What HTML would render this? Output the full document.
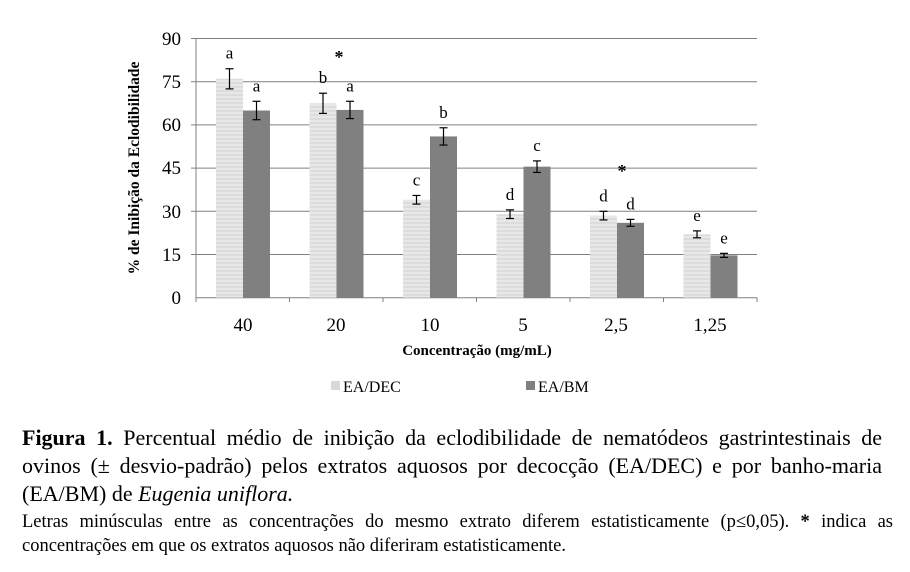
<!DOCTYPE html>
<html><head><style>
body{margin:0;background:#fff;width:910px;height:572px;overflow:hidden;position:relative;font-family:"Liberation Serif",serif;}
.cap{position:absolute;left:22px;top:424px;width:860px;font-size:22px;line-height:28px;color:#000;}
.note{position:absolute;left:22px;top:510px;width:871px;font-size:18.5px;line-height:24px;color:#000;}
.j{text-align:justify;text-align-last:justify;white-space:nowrap;}
</style></head><body>
<svg width="910" height="420" style="position:absolute;left:0;top:0" font-family="Liberation Serif, serif">
<defs>
<pattern id="lp" width="4" height="4" patternUnits="userSpaceOnUse"><rect width="4" height="4" fill="#dcdcdc"/><rect width="4" height="2" fill="#e8e8e8"/></pattern>
</defs>
<g stroke="#808080" stroke-width="1">
<line x1="196" y1="38.5" x2="757" y2="38.5"/>
<line x1="196" y1="81.7" x2="757" y2="81.7"/>
<line x1="196" y1="124.9" x2="757" y2="124.9"/>
<line x1="196" y1="168.1" x2="757" y2="168.1"/>
<line x1="196" y1="211.3" x2="757" y2="211.3"/>
<line x1="196" y1="254.5" x2="757" y2="254.5"/>
<line x1="196" y1="297.7" x2="757" y2="297.7"/>
<line x1="196" y1="38.5" x2="196" y2="302"/>
<line x1="191" y1="38.5" x2="196" y2="38.5"/><line x1="191" y1="81.7" x2="196" y2="81.7"/><line x1="191" y1="124.9" x2="196" y2="124.9"/><line x1="191" y1="168.1" x2="196" y2="168.1"/><line x1="191" y1="211.3" x2="196" y2="211.3"/><line x1="191" y1="254.5" x2="196" y2="254.5"/>
<line x1="289.5" y1="297.7" x2="289.5" y2="302"/><line x1="383" y1="297.7" x2="383" y2="302"/><line x1="476.5" y1="297.7" x2="476.5" y2="302"/><line x1="570" y1="297.7" x2="570" y2="302"/><line x1="663.5" y1="297.7" x2="663.5" y2="302"/><line x1="757" y1="297.7" x2="757" y2="302"/>
</g>
<g font-size="19" text-anchor="end" fill="#000">
<text x="181" y="45">90</text><text x="181" y="88">75</text><text x="181" y="131">60</text><text x="181" y="174">45</text><text x="181" y="218">30</text><text x="181" y="261">15</text><text x="181" y="304">0</text>
</g>
<g font-size="19" text-anchor="middle">
<text x="243" y="331">40</text><text x="336" y="331">20</text><text x="430" y="331">10</text><text x="523" y="331">5</text><text x="616" y="331">2,5</text><text x="710" y="331">1,25</text>
</g>
<text x="477" y="355" font-size="15" font-weight="bold" text-anchor="middle">Concentração (mg/mL)</text>
<text transform="translate(139,168) rotate(-90)" font-size="15.5" font-weight="bold" text-anchor="middle">% de Inibição da Eclodibilidade</text>
<g id="bars"></g>
<rect x="331" y="381" width="9" height="9" fill="#d8d8d8"/><text x="343" y="392" font-size="16">EA/DEC</text>
<rect x="526" y="381" width="9" height="9" fill="#808080"/><text x="538" y="392" font-size="16">EA/BM</text>
<g font-size="18" text-anchor="middle" font-weight="bold"><text x="339" y="63">*</text><text x="622" y="177">*</text></g>
</svg>
<script>
var dec=[76,67.5,34,29,28.5,22],bm=[65,65.2,56,45.5,26,14.7],ed=[3.5,3.5,1.5,1.5,1.5,1.2],eb=[3.2,3,3,2,1.2,0.7];
var ld=["a","b","c","d","d","e"],lb=["a","a","b","c","d","e"];
function Y(v){return 297.7-v*2.88;}
var s="";
for(var i=0;i<6;i++){var x0=196+i*93.5+20;
[[dec[i],ed[i],ld[i],"url(#lp)",x0],[bm[i],eb[i],lb[i],"#808080",x0+27]].forEach(function(b){
var y=Y(b[0]),cx=b[4]+13.5;
s+='<rect x="'+b[4]+'" y="'+y+'" width="27" height="'+(297.7-y)+'" fill="'+b[3]+'"/>';
var y1=Y(b[0]+b[1]),y2=Y(b[0]-b[1]);
s+='<g stroke="#000" stroke-width="1.2"><line x1="'+cx+'" y1="'+y1+'" x2="'+cx+'" y2="'+y2+'"/><line x1="'+(cx-4)+'" y1="'+y1+'" x2="'+(cx+4)+'" y2="'+y1+'"/><line x1="'+(cx-4)+'" y1="'+y2+'" x2="'+(cx+4)+'" y2="'+y2+'"/></g>';
s+='<text x="'+cx+'" y="'+(y1-10)+'" font-size="17" text-anchor="middle">'+b[2]+'</text>';
});}
document.getElementById("bars").innerHTML=s;
</script>
<div class="cap"><div class="j"><b>Figura 1.</b> Percentual médio de inibição da eclodibilidade de nematódeos gastrintestinais de</div><div class="j">ovinos (± desvio-padrão) pelos extratos aquosos por decocção (EA/DEC) e por banho-maria</div><div>(EA/BM) de <i>Eugenia uniflora.</i></div></div>
<div class="note"><div class="j">Letras minúsculas entre as concentrações do mesmo extrato diferem estatisticamente (p≤0,05). <b>*</b> indica as</div><div>concentrações em que os extratos aquosos não diferiram estatisticamente.</div></div>
</body></html>
